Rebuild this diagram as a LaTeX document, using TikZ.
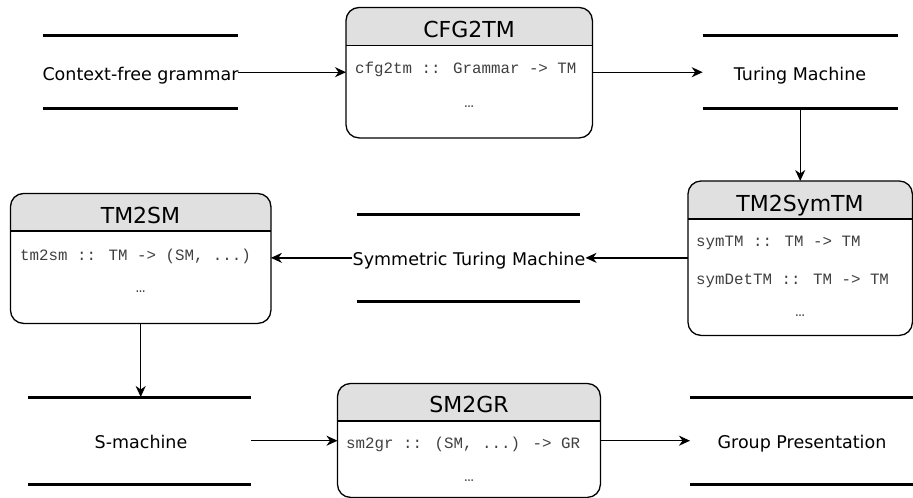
\documentclass[tikz,border=0pt]{standalone}
\usepackage{fontspec}
\setmainfont{DejaVu Sans}
\newfontfamily\codefont{Liberation Mono}
\usetikzlibrary{arrows.meta}
\definecolor{hdrgray}{HTML}{E0E0E0}
\tikzset{
  procbox/.style={rectangle, draw=none, anchor=north west, inner sep=0pt},
  boxline/.style={draw=black, line width=1.3pt, rounded corners=13pt},
  hdrfill/.style={fill=hdrgray},
  titletext/.style={font=\fontsize{22}{25}\selectfont, text height=16pt, text depth=0pt, inner sep=0pt},
  labeltext/.style={font=\fontsize{17.5}{20}\selectfont, text height=12.7pt, text depth=0pt, inner sep=0pt},
  codetext/.style={font=\codefont\fontsize{15.8}{18}\selectfont, text height=9.8pt, text depth=0pt, inner sep=0pt, anchor=west, text=black!75},
  dotstext/.style={font=\codefont\fontsize{15.8}{18}\selectfont, inner sep=0pt, anchor=base, text=black!75},
  storeline/.style={line width=3pt},
  flow/.style={line width=1.3pt, -{Stealth[length=11pt,width=10pt,inset=3.5pt]}},
  storebox/.style={rectangle, draw=none, inner sep=0pt, anchor=north west}
}
% name, x1, y1, x2, y2, header y
\newcommand\mkprocbox[6]{%
  \node[procbox, minimum width={(#4-#2)*1pt}, minimum height={(#5-#3)*1pt}] (#1) at (#2,#3) {};
  \begin{scope}
    \clip[rounded corners=13pt] (#1.north west) rectangle (#1.south east);
    \fill[white] (#1.north west) rectangle (#1.south east);
    \fill[hdrfill] (#1.north west) rectangle (#4,#6);
    \draw[line width=1.3pt] (#2,#6) -- (#4,#6);
  \end{scope}
  \draw[boxline] (#1.north west) rectangle (#1.south east);
}
% name, x1, y1, x2, y2
\newcommand\mkstore[5]{%
  \node[storebox, minimum width={(#4-#2)*1pt}, minimum height={(#5-#3)*1pt}] (#1) at (#2,#3) {};
  \draw[storeline] (#1.north west) -- (#1.north east);
  \draw[storeline] (#1.south west) -- (#1.south east);
}
\begin{document}
\begin{tikzpicture}[x=1pt,y=-1pt]
\useasboundingbox (0,0) rectangle (913,498);

% ---- stores ----
\mkstore{cfgS}{42.7}{35.7}{237.3}{108.3}
\mkstore{tmS}{702.7}{35.7}{897.3}{108.3}
\mkstore{stmS}{356.7}{214.3}{579.3}{301}
\mkstore{smS}{28.3}{397}{250.7}{484}
\mkstore{gpS}{690}{397}{913}{484}

\node[labeltext] (cfgL) at (140.5,74) {Context-free grammar};
\node[labeltext] (tmL) at (800,74) {Turing Machine};
\node[labeltext] (stmT) at (469,259.3) {Symmetric Turing Machine};
\node[labeltext] (smL) at (141,442) {S-machine};
\node[labeltext] (gpL) at (802,442) {Group Presentation};

% ---- process boxes ----
\mkprocbox{cfg}{346}{7.5}{592}{137.5}{45.5}
\node[titletext] (cfgT) at (469,29.5) {CFG2TM};
\node[codetext] (cfgC) at (355,69) {cfg2tm :: Grammar -> TM};
\node[dotstext] (cfgD) at (469,107) {…};

\mkprocbox{sym}{688}{181}{912}{335}{219}
\node[titletext] (symT) at (800,203) {TM2SymTM};
\node[codetext] (symC1) at (696,241.5) {symTM :: TM -> TM};
\node[codetext] (symC2) at (696,279.3) {symDetTM :: TM -> TM};
\node[dotstext] (symD) at (800,316.5) {…};

\mkprocbox{tmsm}{10.5}{193.5}{270.5}{323}{231}
\node[titletext] (tmsmT) at (140.5,215) {TM2SM};
\node[codetext] (tmsmC) at (20,256) {tm2sm :: TM -> (SM, ...)};
\node[dotstext] (tmsmD) at (140.5,292.5) {…};

\mkprocbox{smgr}{337.5}{383.5}{600}{497}{421}
\node[titletext] (smgrT) at (469,404.5) {SM2GR};
\node[codetext] (smgrC) at (346,443.5) {sm2gr :: (SM, ...) -> GR};
\node[dotstext] (smgrD) at (469,481) {…};

% ---- connectors ----
\draw[flow] (cfgS.east) -- (cfg.west |- cfgS.east);
\draw[flow] (cfg.east |- tmS.west) -- (tmS.west);
\draw[flow] (tmS.south) -- (sym.north);
\draw[flow] (sym.west |- stmS.center) -- (stmT.east |- stmS.center);
\draw[flow] (stmT.west |- stmS.center) -- (tmsm.east |- stmS.center);
\draw[flow] (tmsm.south) -- (smS.north -| tmsm.south);
\draw[flow] (smS.east) -- (smgr.west |- smS.east);
\draw[flow] (smgr.east |- gpS.west) -- (gpS.west);
\end{tikzpicture}
\end{document}
